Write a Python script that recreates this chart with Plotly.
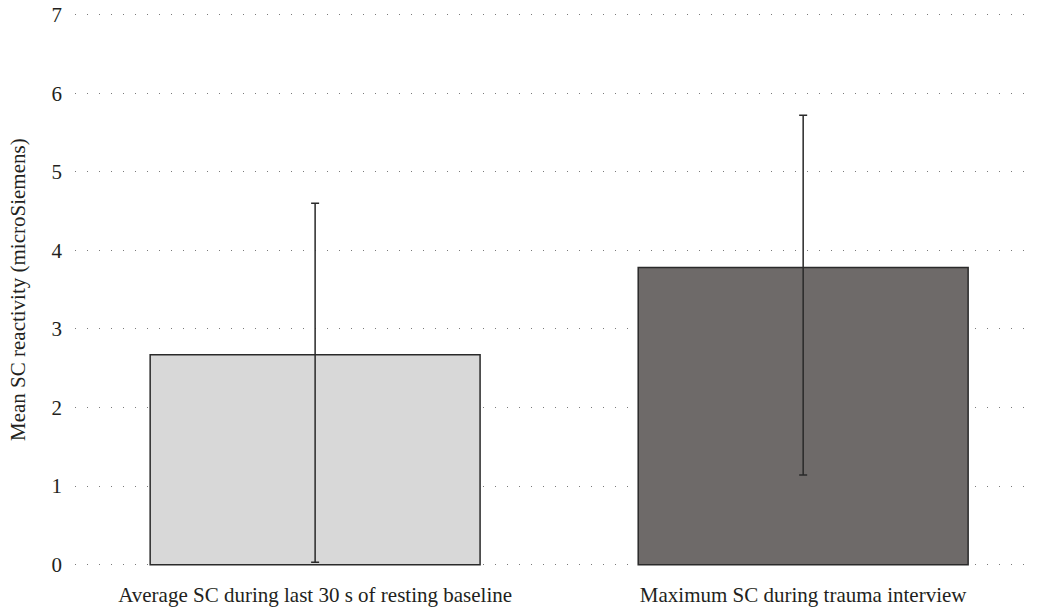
import plotly.graph_objects as go

categories = ["Average SC during last 30 s of resting baseline",
              "Maximum SC during trauma interview"]
means = [2.67, 3.78]
err_plus = [1.93, 1.94]
err_minus = [2.64, 2.64]
colors = ["#d8d8d8", "#6e6a69"]
y_ticks = [0, 1, 2, 3, 4, 5, 6, 7]
y_title = "Mean SC reactivity (microSiemens)"

fig = go.Figure()
fig.add_trace(go.Bar(
    x=categories, y=means,
    width=0.676,
    marker=dict(color=colors, line=dict(color="#2a2a2a", width=1.5)),
    error_y=dict(type="data", array=err_plus, arrayminus=err_minus,
                 symmetric=False, color="#2a2a2a", thickness=1.5, width=4),
))

fig.update_layout(
    width=1039, height=610,
    margin=dict(l=75, r=4, t=13, b=43),
    paper_bgcolor="white", plot_bgcolor="white",
    showlegend=False,
    font=dict(family="Liberation Serif", color="#231f20", size=21),
    xaxis=dict(range=[-0.492, 1.475], showgrid=False, showline=False,
               ticks="", tickfont=dict(size=21), ticklabelstandoff=13,
               automargin=False),
    yaxis=dict(range=[-0.03, 7.02], tickvals=y_ticks, showline=False, zeroline=False,
               showgrid=True, gridcolor="#7a7a7a", gridwidth=1,
               griddash="1px,11px", ticks="", ticklen=0,
               tickfont=dict(size=21), ticklabelstandoff=12,
               ticklabeloverflow="allow", automargin=False),
    annotations=[dict(text=y_title, textangle=-90, xref="paper", yref="paper",
                      x=0, y=0.5, xshift=-57, xanchor="center", yanchor="middle",
                      showarrow=False, font=dict(size=21))],
)

fig.write_html("out.html", config={"displayModeBar": False},
               post_script="document.body.style.margin='0px';")
